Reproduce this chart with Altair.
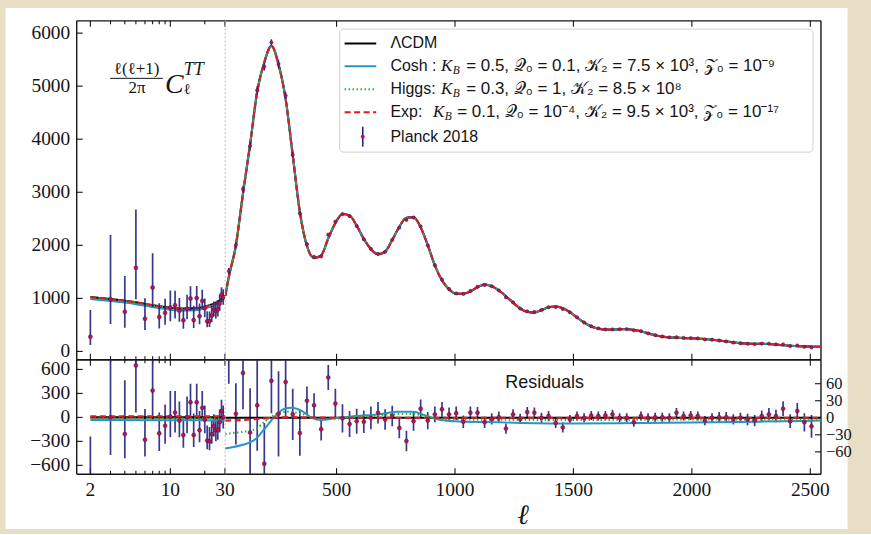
import altair as alt
import pandas as pd

# ---------------- values ----------------
# low multipoles (log axis, 2..29)
ell_low = [2, 3, 4, 5, 6, 7, 8, 9, 10, 11, 12, 13, 14, 15, 16, 17, 18, 19, 20,
           21, 22, 23, 24, 25, 26, 27, 28, 29]
planck_low = [277, 985, 747, 1575, 615, 1205, 650, 727, 828, 872, 768, 586, 806, 997,
              590, 1005, 662, 952, 815, 567, 570, 675, 790, 760, 790, 902, 1070, 1020]
planck_low_lo = [122, 515, 445, 985, 405, 830, 430, 502, 568, 622, 558, 426, 606, 767,
                 440, 795, 512, 802, 645, 457, 460, 555, 660, 620, 660, 772, 930, 880]
planck_low_hi = [782, 2195, 1420, 2675, 1000, 1850, 910, 992, 1148, 1142, 1008, 786, 1066, 1227,
                 860, 1235, 902, 1162, 995, 757, 750, 855, 940, 930, 960, 1062, 1210, 1170]
res_low = [-745, 0, -208, 650, -280, 335, -200, -105, 10, 60, -40, -220, 0, 190,
           -220, 190, -160, 120, -30, -290, -300, -210, -110, -160, -150, -60, 80, 0]
res_low_lo = [-900, -470, -510, 60, -490, -40, -420, -330, -250, -190, -250, -380, -200, -40,
              -370, -20, -310, -30, -200, -400, -410, -330, -240, -300, -280, -190, -60, -140]
res_low_hi = [-240, 1210, 465, 1750, 105, 980, 60, 160, 330, 330, 200, -20, 260, 420,
              50, 420, 80, 330, 150, -100, -120, -30, 40, 10, 20, 100, 220, 150]

ell_low_curve = [2, 3, 4, 5, 6, 7, 8, 9, 10, 11, 12, 13, 14, 15, 16, 17, 18, 19, 20,
                 21, 22, 23, 24, 25, 26, 27, 28, 29, 30]
lcdm_low_curve = [1022, 985, 955, 925, 895, 870, 850, 832, 818, 812, 808, 806, 806, 807, 810,
                  815, 822, 832, 845, 857, 870, 885, 900, 920, 940, 962, 990, 1020, 1050]
cosh_low_curve = [987, 950, 920, 890, 860, 835, 815, 797, 783, 777, 773, 771, 771, 772, 775,
                  780, 787, 797, 810, 822, 835, 850, 865, 885, 905, 927, 955, 985, 1015]

ell_low_res_curve = [2, 10, 20, 30]
lcdm_low_res = [0, 0, 0, 0]
cosh_low_res = [-32, -35, -37, -40]
higgs_low_res = [-10, -10, -10, -10]
exp_low_res = [12, 12, 12, 12]

# binned high multipoles (linear axis)
ell_bin = [45, 75, 105, 135, 165, 195, 225, 255, 285, 315, 345, 375, 405, 435, 465, 495,
           525, 555, 585, 615, 645, 675, 705, 735, 765, 795, 825, 855, 885, 915, 945, 975,
           1005, 1035, 1065, 1095, 1125, 1155, 1185, 1215, 1245, 1275, 1305, 1335, 1365, 1395,
           1425, 1455, 1485, 1515, 1545, 1575, 1605, 1635, 1665, 1695, 1725, 1755, 1785, 1815,
           1845, 1875, 1905, 1935, 1965, 1995, 2025, 2055, 2085, 2115, 2145, 2175, 2205, 2235,
           2265, 2295, 2325, 2355, 2385, 2415, 2445, 2475, 2505]
lcdm_bin = [1400, 2000, 2980, 3900, 4900, 5450, 5760, 5410, 4760, 3700, 2630, 1990, 1760, 1810,
            2130, 2420, 2590, 2560, 2370, 2120, 1930, 1830, 1880, 2100, 2350, 2520, 2530, 2340,
            2004, 1620, 1340, 1170, 1085, 1090, 1130, 1210, 1260, 1230, 1150, 1040, 920, 810,
            745, 735, 780, 830, 846, 815, 740, 640, 545, 470, 430, 410, 410, 418, 420, 405,
            380, 340, 305, 280, 265, 258, 252, 248, 242, 232, 220, 205, 188, 170, 155, 145,
            142, 143, 140, 128, 116, 106, 100, 94, 90]
planck_bin = [1515, 2007, 3059, 3874, 4922, 5369, 5825, 5417, 4823, 3706, 2603, 2020, 1782, 1790,
              2201, 2445, 2589, 2549, 2364, 2113, 1930, 1839, 1877, 2103, 2332, 2479, 2524, 2356,
              1999, 1626, 1355, 1176, 1093, 1083, 1139, 1219, 1252, 1228, 1151, 1021, 926, 808,
              755, 744, 780, 833, 837, 798, 737, 643, 545, 474, 433, 414, 416, 418, 420, 397,
              383, 340, 306, 281, 265, 267, 255, 252, 245, 227, 220, 206, 189, 167, 155, 142,
              137, 146, 146, 131, 132, 100, 112, 86, 75]
res_bin = [115, 7, 79, -26, 22, -81, 65, 7, 63, 6, -27, 30, 22, -20, 71, 25, -1, -11, -6, -7,
           0, 9, -3, 3, -18, -41, -6, 16, -5, 6, 15, 6, 8, -7, 9, 9, -8, -2, 1, -19, 6, -2,
           10, 9, 0, 3, -9, -17, -3, 3, 0, 4, 3, 4, 6, 0, 0, -8, 3, 0, 1, 1, 0, 9, 3, 4,
           3, -5, 0, 1, 1, -3, 0, -3, -5, 3, 6, 3, 16, -6, 12, -8, -15]
err_bin = [55, 54, 64, 78, 80, 72, 57, 75, 60, 45, 40, 25, 21, 20, 22, 26, 25, 23, 22, 20,
           20, 19, 18, 18, 18, 18, 17, 16, 15, 14, 13, 12, 12, 11, 11, 10, 10, 10, 10, 9,
           9, 9, 9, 9, 9, 9, 9, 9, 8, 8, 8, 8, 8, 8, 8, 8, 8, 8, 8, 8, 8, 8, 8, 8, 8, 8,
           8, 8, 8, 9, 9, 9, 9, 10, 10, 10, 11, 11, 13, 12, 14, 16, 20]

# smooth LCDM curve on the linear part: ends at the panel edges
ell_hi_curve = [30] + ell_bin + [2545]
lcdm_hi_curve = [1050] + lcdm_bin + [88]

# model residual curves (linear part)
cosh_res_ell = [30, 60, 100, 157, 199, 241, 276, 311, 353, 395, 437, 493, 578, 676, 760, 823,
                872, 929, 998, 1139, 1279, 1500, 1800, 2100, 2400, 2545]
cosh_res = [-54, -52, -48, -38, -18, 3, 15, 17.5, 12, 0, -4, -1, 3, 6, 10.5, 10.5,
            4.6, -3, -6, -7.6, -9, -10, -9, -8, -6, -5]
higgs_res_ell = [30, 60, 100, 157, 199, 241, 290, 353, 395, 450, 600, 700, 800, 870, 930,
                 1000, 1500, 2000, 2545]
higgs_res = [-29, -27, -25, -20, -6, 6, 10.5, 7, 0, -2, 2, 5, 7, 4, -2, -3, -4, -3, -3]
exp_res_ell = [30, 100, 200, 300, 500, 2545]
exp_res = [-5, -4, -1, 1, 0, 0]
lcdm_res_ell = [30, 2545]
lcdm_res = [0, 0]

# tick values
xt_log_major = [2, 10, 30]
xt_log_minor = [3, 4, 5, 6, 7, 8, 9, 20]
xt_lin = [500, 1000, 1500, 2000, 2500]
yt_top = [0, 1000, 2000, 3000, 4000, 5000, 6000]
yt_resL = [-600, -300, 0, 300, 600]
yt_resR = [-60, -30, 0, 30, 60]

legend_labels = ["ΛCDM", "Cosh", "Higgs", "Exp", "Planck 2018"]

# ---------------- styling / layout ----------------
INK = "#151515"
BAR = "#22227f"
DOT = "#c3123f"
C_LCDM = "#000000"
C_COSH = "#2a93c9"
C_HIGGS = "#2fae2f"
C_EXP = "#e41a1c"
SERIF = "Liberation Serif"
SANS = "Liberation Sans"
TICKFS = 19.5

WL, WR = 148.7, 597.8
HT, HB = 340.0, 115.0

xs_log = alt.Scale(type="log", domain=[1.52, 30], nice=False)
xs_lin = alt.Scale(domain=[30, 2545], nice=False, zero=False)
ys_top = alt.Scale(domain=[-156, 6231], nice=False, zero=False)
ys_resL = alt.Scale(domain=[-712, 722], nice=False, zero=False)
ys_resR = alt.Scale(domain=[-99.5, 102.3], nice=False, zero=False)

ONE = pd.DataFrame({"o": [0]})


def df(**cols):
    return pd.DataFrame(cols)


def X(field, scale):
    return alt.X(field, type="quantitative", scale=scale, axis=None)


def Y(field, scale):
    return alt.Y(field, type="quantitative", scale=scale, axis=None)


def hrule(x1, x2, y, **kw):
    return alt.Chart(ONE).mark_rule(**kw).encode(x=alt.value(x1), x2=alt.value(x2), y=alt.value(y))


def vrule(x, y1, y2, **kw):
    return alt.Chart(ONE).mark_rule(**kw).encode(x=alt.value(x), y=alt.value(y1), y2=alt.value(y2))


def text(s, x, y, size, font=SANS, style="normal", align="left", baseline="middle", color=INK):
    return alt.Chart(ONE).mark_text(text=s, font=font, fontSize=size, fontStyle=style,
                                    align=align, baseline=baseline, color=color).encode(
        x=alt.value(x), y=alt.value(y))


def borders(W, H, sides):
    kw = dict(color=INK, strokeWidth=1.4)
    out = []
    if "t" in sides:
        out.append(hrule(0, W, 0, **kw))
    if "b" in sides:
        out.append(hrule(0, W, H, **kw))
    if "l" in sides:
        out.append(vrule(0, 0, H, **kw))
    if "r" in sides:
        out.append(vrule(W, 0, H, **kw))
    return out


def xticks(vals, xs, length, H):
    base = alt.Chart(df(t=vals)).mark_rule(color=INK, strokeWidth=1.1)
    return [base.encode(x=X("t", xs), y=alt.value(0), y2=alt.value(length)),
            base.encode(x=X("t", xs), y=alt.value(H), y2=alt.value(H - length))]


def yticks(vals, ys, length, xpos, inward):
    base = alt.Chart(df(t=vals)).mark_rule(color=INK, strokeWidth=1.1)
    return [base.encode(y=Y("t", ys), x=alt.value(xpos), x2=alt.value(xpos + inward * length))]


def ylabels(vals, ys, xpos, side, size=TICKFS):
    if side == "left":
        mk = dict(align="right", dx=-6.5)
    else:
        mk = dict(align="left", dx=5)
    return alt.Chart(df(t=vals)).mark_text(baseline="middle", font=SERIF, fontSize=size,
                                           color=INK, **mk).encode(
        y=Y("t", ys), x=alt.value(xpos), text=alt.Text("t:Q", format="d"))


def xlabels(vals, xs, H):
    return alt.Chart(df(t=vals)).mark_text(baseline="top", dy=7, align="center", font=SERIF,
                                           fontSize=TICKFS, color=INK).encode(
        x=X("t", xs), y=alt.value(H), text=alt.Text("t:Q", format="d"))


def line(ell, val, xs, ys, color, width=2.0, dash=None):
    kw = dict(color=color, strokeWidth=width, interpolate="monotone", clip=True)
    if dash:
        kw["strokeDash"] = dash
    return alt.Chart(df(ell=ell, v=val)).mark_line(**kw).encode(x=X("ell", xs), y=Y("v", ys))


def errbars(data, xs, ys, width=1.7):
    return alt.Chart(data).mark_rule(color=BAR, strokeWidth=width, opacity=0.9, clip=True).encode(
        x=X("ell", xs), y=Y("lo", ys), y2=alt.Y2("hi"))


def dots(data, xs, ys, size=16):
    return alt.Chart(data).mark_circle(color=DOT, size=size, opacity=1, clip=True,
                                       stroke="#3a1060", strokeWidth=0.5).encode(
        x=X("ell", xs), y=Y("v", ys))


# ---------------- top-left: log part of the spectrum ----------------
low_top = df(ell=ell_low, v=planck_low, lo=planck_low_lo, hi=planck_low_hi)
TL_layers = [
    # white figure sheet (decoration, drawn first)
    alt.Chart(ONE).mark_rect(color="white", clip=False).encode(
        x=alt.value(-71.5), x2=alt.value(773.5), y=alt.value(-13), y2=alt.value(510)),
]
TL_layers += borders(WL, HT, "tbl")
TL_layers += xticks(xt_log_major, xs_log, 6, HT) + xticks(xt_log_minor, xs_log, 3.5, HT)
TL_layers += yticks(yt_top, ys_top, 6, 0, 1)
TL_layers += [ylabels(yt_top, ys_top, 0, "left")]
TL_layers += [
    line(ell_low_curve, lcdm_low_curve, xs_log, ys_top, C_LCDM, 2.2),
    line(ell_low_curve, cosh_low_curve, xs_log, ys_top, C_COSH, 2.0),
    line(ell_low_curve, lcdm_low_curve, xs_log, ys_top, C_HIGGS, 2.0, [1.5, 2.5]),
    line(ell_low_curve, lcdm_low_curve, xs_log, ys_top, C_EXP, 2.0, [6, 3.5]),
    errbars(low_top, xs_log, ys_top),
    dots(low_top, xs_log, ys_top),
    # y-label  l(l+1)/2pi C_l^TT
    text("ℓ(ℓ+1)", 60, 48, 17, SERIF, align="center"),
    hrule(33.5, 86.5, 57.7, color=INK, strokeWidth=1),
    text("2π", 60.5, 67.5, 17, SERIF, align="center"),
    text("C", 88.5, 72, 28, SERIF, style="italic", baseline="alphabetic"),
    text("TT", 107.5, 49, 18, SERIF, style="italic"),
    text("ℓ", 107.5, 68, 15, SERIF),
]
TL = alt.layer(*TL_layers).properties(width=WL, height=HT)

# ---------------- top-right: linear part of the spectrum ----------------
hi_top = df(ell=ell_bin, v=planck_bin, e=err_bin)
TR_layers = borders(WR, HT, "tbr")
TR_layers += [vrule(0, 0, HT, color="#b5b5b5", strokeWidth=1.1, strokeDash=[1.5, 2.5])]
TR_layers += xticks(xt_lin, xs_lin, 6, HT)
TR_layers += [
    line(ell_hi_curve, lcdm_hi_curve, xs_lin, ys_top, C_LCDM, 2.2),
    line(ell_hi_curve, lcdm_hi_curve, xs_lin, ys_top, C_COSH, 2.0),
    line(ell_hi_curve, lcdm_hi_curve, xs_lin, ys_top, C_HIGGS, 2.0, [1.5, 2.5]),
    line(ell_hi_curve, lcdm_hi_curve, xs_lin, ys_top, C_EXP, 2.0, [6, 3.5]),
    alt.Chart(hi_top).transform_calculate(lo="datum.v - datum.e", hi="datum.v + datum.e")
    .mark_rule(color=BAR, strokeWidth=1.4, clip=True).encode(
        x=X("ell", xs_lin), y=Y("lo", ys_top), y2=alt.Y2("hi")),
    dots(hi_top, xs_lin, ys_top, size=11),
]
# legend (manual)
LG_rows = [22.7, 45.6, 68.7, 91.8, 116.2]
MFS = 17
TR_layers += [
    alt.Chart(ONE).mark_rect(fill="white", fillOpacity=0.9, stroke="#cfcfcf", strokeWidth=1,
                             cornerRadius=4).encode(
        x=alt.value(114.8), x2=alt.value(589.8), y=alt.value(8.3), y2=alt.value(131.7)),
    hrule(119.8, 151.5, LG_rows[0], color=C_LCDM, strokeWidth=2),
    hrule(119.8, 151.5, LG_rows[1], color=C_COSH, strokeWidth=2),
    hrule(119.8, 151.5, LG_rows[2], color=C_HIGGS, strokeWidth=2, strokeDash=[1.5, 2.5]),
    hrule(119.8, 151.5, LG_rows[3], color=C_EXP, strokeWidth=2, strokeDash=[6, 3.5]),
    vrule(138, LG_rows[4] - 10, LG_rows[4] + 10, color=BAR, strokeWidth=1.6),
    alt.Chart(ONE).mark_circle(color=DOT, size=16, opacity=1).encode(
        x=alt.value(138), y=alt.value(LG_rows[4])),
    text(legend_labels[0], 165.8, LG_rows[0], 16),
    text(legend_labels[1] + " :", 165.8, LG_rows[1], 16),
    text("K", 227.8, LG_rows[1], 17, SERIF, "italic", align="right"),
    text("B", 228.3, LG_rows[1] + 4.5, 11.5, SERIF, "italic"),
    text("= 0.5, 𝒬₀ = 0.1, 𝒦₂ = 7.5 × 10³, 𝒵₀ = 10⁻⁹", 241.8, LG_rows[1], MFS),
    text(legend_labels[2] + ":", 165.8, LG_rows[2], 16),
    text("K", 227.8, LG_rows[2], 17, SERIF, "italic", align="right"),
    text("B", 228.3, LG_rows[2] + 4.5, 11.5, SERIF, "italic"),
    text("= 0.3, 𝒬₀ = 1, 𝒦₂ = 8.5 × 10⁸", 241.8, LG_rows[2], MFS),
    text(legend_labels[3] + ":", 165.8, LG_rows[3], 16),
    text("K", 219.8, LG_rows[3], 17, SERIF, "italic", align="right"),
    text("B", 220.3, LG_rows[3] + 4.5, 11.5, SERIF, "italic"),
    text("= 0.1, 𝒬₀ = 10⁻⁴, 𝒦₂ = 9.5 × 10³, 𝒵₀ = 10⁻¹⁷", 232.8, LG_rows[3], MFS),
    text(legend_labels[4], 165.8, LG_rows[4], 16),
]
TR = alt.layer(*TR_layers).properties(width=WR, height=HT)

# ---------------- bottom-left: residuals, log part ----------------
low_res = df(ell=ell_low, v=res_low, lo=res_low_lo, hi=res_low_hi)
BL_layers = borders(WL, HB, "tbl")
BL_layers += xticks(xt_log_major, xs_log, 6, HB) + xticks(xt_log_minor, xs_log, 3.5, HB)
BL_layers += yticks(yt_resL, ys_resL, 6, 0, 1)
BL_layers += [ylabels(yt_resL, ys_resL, 0, "left"), xlabels(xt_log_major, xs_log, HB)]
BL_layers += [
    errbars(low_res, xs_log, ys_resL),
    line(ell_low_res_curve, lcdm_low_res, xs_log, ys_resL, C_LCDM, 2.2),
    line(ell_low_res_curve, cosh_low_res, xs_log, ys_resL, C_COSH, 2.0),
    line(ell_low_res_curve, higgs_low_res, xs_log, ys_resL, C_HIGGS, 2.0, [1.5, 2.5]),
    line(ell_low_res_curve, exp_low_res, xs_log, ys_resL, C_EXP, 2.2, [6, 3.5]),
    dots(low_res, xs_log, ys_resL),
]
BL = alt.layer(*BL_layers).properties(width=WL, height=HB)

# ---------------- bottom-right: residuals, linear part ----------------
hi_res = df(ell=ell_bin, v=res_bin, e=err_bin)
BR_layers = borders(WR, HB, "tbr")
BR_layers += [vrule(0, 0, HB, color="#b5b5b5", strokeWidth=1.1, strokeDash=[1.5, 2.5])]
BR_layers += xticks(xt_lin, xs_lin, 6, HB)
BR_layers += yticks(yt_resR, ys_resR, 6, WR, -1)
BR_layers += [ylabels(yt_resR, ys_resR, WR, "right", 16.5), xlabels(xt_lin, xs_lin, HB)]
BR_layers += [
    alt.Chart(hi_res).transform_calculate(lo="datum.v - datum.e", hi="datum.v + datum.e")
    .mark_rule(color=BAR, strokeWidth=1.7, opacity=0.9, clip=True).encode(
        x=X("ell", xs_lin), y=Y("lo", ys_resR), y2=alt.Y2("hi")),
    line(lcdm_res_ell, lcdm_res, xs_lin, ys_resR, C_LCDM, 2.2),
    line(cosh_res_ell, cosh_res, xs_lin, ys_resR, C_COSH, 2.0),
    line(higgs_res_ell, higgs_res, xs_lin, ys_resR, C_HIGGS, 2.0, [1.5, 2.5]),
    line(exp_res_ell, exp_res, xs_lin, ys_resR, C_EXP, 2.2, [6, 3.5]),
    dots(hi_res, xs_lin, ys_resR),
    text("Residuals", 320.5, 23, 18, align="center"),
    text("ℓ", 298.8, 156.7, 28, SERIF, "italic", align="center"),
]
BR = alt.layer(*BR_layers).properties(width=WR, height=HB)

chart = alt.concat(TL, TR, BL, BR, columns=2, spacing=0, bounds="flush", align="each").properties(
    background="#e8dec6",
    padding={"left": 5, "top": 7, "right": 19, "bottom": 3},
).configure_view(stroke=None)

chart.save("out.html", embed_options={"renderer": "svg", "actions": False})
